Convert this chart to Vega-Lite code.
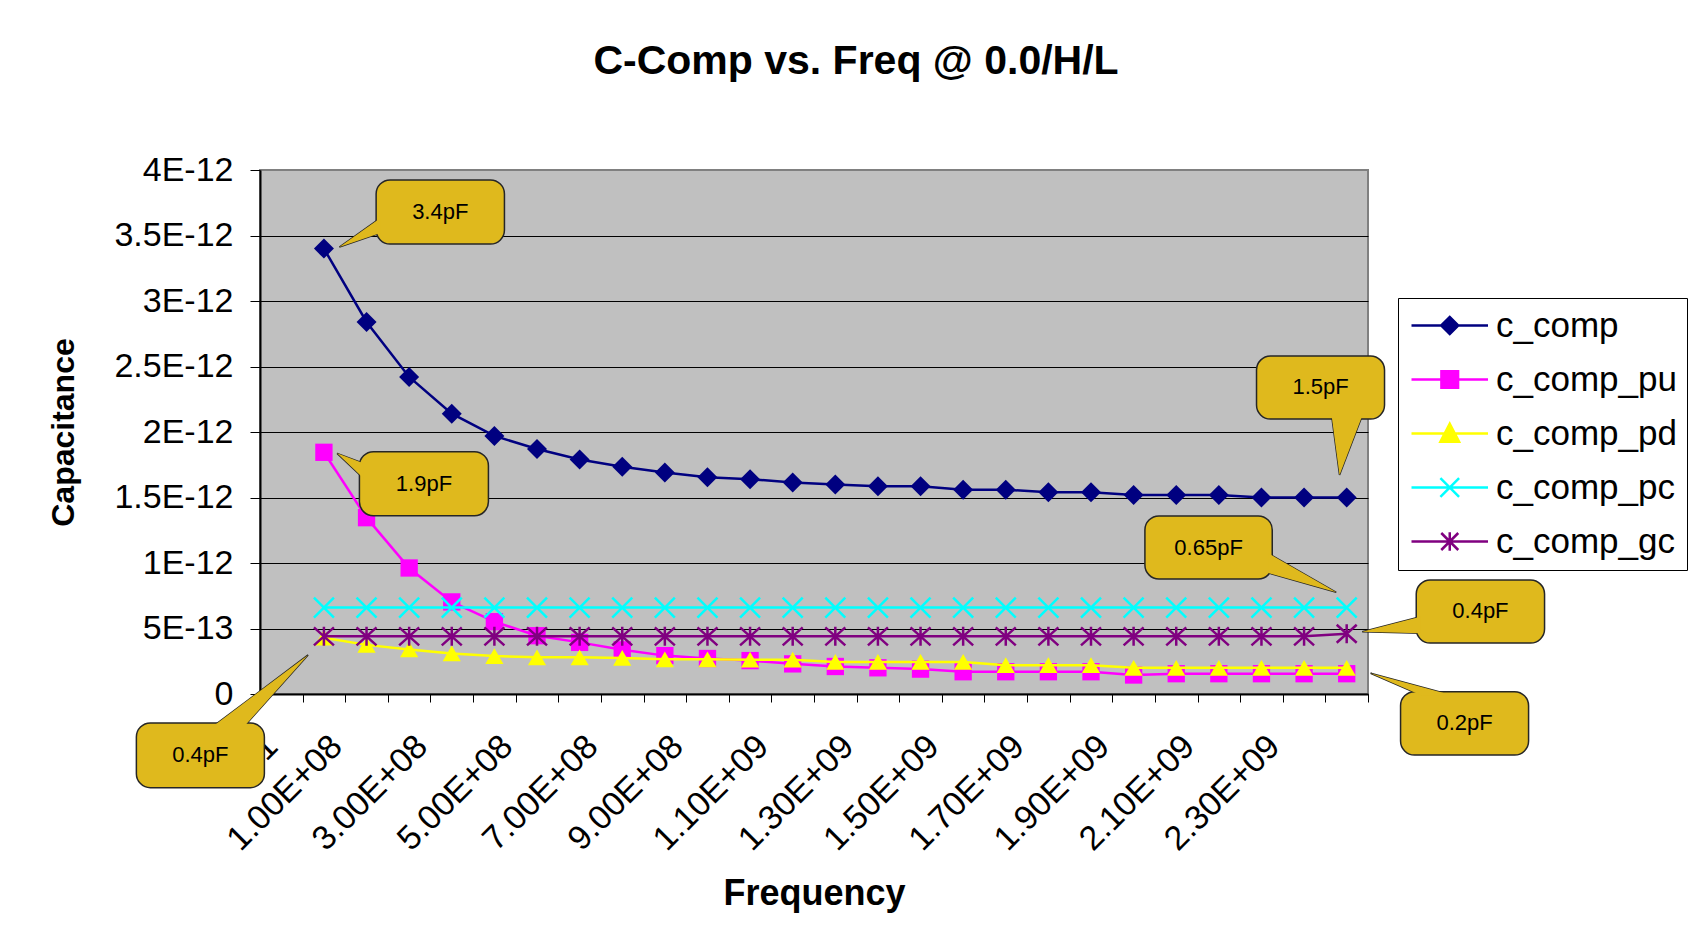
{
  "$schema": "https://vega.github.io/schema/vega-lite/v6.json",
  "width": 1108,
  "height": 524,
  "autosize": {"type": "none"},
  "padding": {"left": 260, "top": 170, "right": 328, "bottom": 253},
  "background": "#ffffff",
  "title": {
    "text": "C-Comp vs. Freq @ 0.0/H/L",
    "anchor": "middle",
    "frame": "group",
    "dx": 42,
    "offset": 70,
    "font": "Liberation Sans",
    "fontSize": 41,
    "fontWeight": "bold",
    "color": "#000000"
  },
  "datasets": {
    "curves": [
      {"freq": 100000000, "c_comp": 3.40e-12, "c_comp_pu": 1.845e-12, "c_comp_pd": 0.430e-12, "c_comp_pc": 0.66e-12, "c_comp_gc": 0.44e-12},
      {"freq": 200000000, "c_comp": 2.84e-12, "c_comp_pu": 1.346e-12, "c_comp_pd": 0.375e-12, "c_comp_pc": 0.66e-12, "c_comp_gc": 0.44e-12},
      {"freq": 300000000, "c_comp": 2.42e-12, "c_comp_pu": 0.962e-12, "c_comp_pd": 0.340e-12, "c_comp_pc": 0.66e-12, "c_comp_gc": 0.44e-12},
      {"freq": 400000000, "c_comp": 2.14e-12, "c_comp_pu": 0.703e-12, "c_comp_pd": 0.310e-12, "c_comp_pc": 0.66e-12, "c_comp_gc": 0.44e-12},
      {"freq": 500000000, "c_comp": 1.97e-12, "c_comp_pu": 0.552e-12, "c_comp_pd": 0.290e-12, "c_comp_pc": 0.66e-12, "c_comp_gc": 0.44e-12},
      {"freq": 600000000, "c_comp": 1.87e-12, "c_comp_pu": 0.445e-12, "c_comp_pd": 0.280e-12, "c_comp_pc": 0.66e-12, "c_comp_gc": 0.44e-12},
      {"freq": 700000000, "c_comp": 1.79e-12, "c_comp_pu": 0.394e-12, "c_comp_pd": 0.280e-12, "c_comp_pc": 0.66e-12, "c_comp_gc": 0.44e-12},
      {"freq": 800000000, "c_comp": 1.735e-12, "c_comp_pu": 0.337e-12, "c_comp_pd": 0.275e-12, "c_comp_pc": 0.66e-12, "c_comp_gc": 0.44e-12},
      {"freq": 900000000, "c_comp": 1.69e-12, "c_comp_pu": 0.293e-12, "c_comp_pd": 0.265e-12, "c_comp_pc": 0.66e-12, "c_comp_gc": 0.44e-12},
      {"freq": 1000000000, "c_comp": 1.655e-12, "c_comp_pu": 0.271e-12, "c_comp_pd": 0.265e-12, "c_comp_pc": 0.66e-12, "c_comp_gc": 0.44e-12},
      {"freq": 1100000000, "c_comp": 1.64e-12, "c_comp_pu": 0.255e-12, "c_comp_pd": 0.262e-12, "c_comp_pc": 0.66e-12, "c_comp_gc": 0.44e-12},
      {"freq": 1200000000, "c_comp": 1.615e-12, "c_comp_pu": 0.230e-12, "c_comp_pd": 0.262e-12, "c_comp_pc": 0.66e-12, "c_comp_gc": 0.44e-12},
      {"freq": 1300000000, "c_comp": 1.60e-12, "c_comp_pu": 0.210e-12, "c_comp_pd": 0.245e-12, "c_comp_pc": 0.66e-12, "c_comp_gc": 0.44e-12},
      {"freq": 1400000000, "c_comp": 1.585e-12, "c_comp_pu": 0.200e-12, "c_comp_pd": 0.245e-12, "c_comp_pc": 0.66e-12, "c_comp_gc": 0.44e-12},
      {"freq": 1500000000, "c_comp": 1.585e-12, "c_comp_pu": 0.190e-12, "c_comp_pd": 0.245e-12, "c_comp_pc": 0.66e-12, "c_comp_gc": 0.44e-12},
      {"freq": 1600000000, "c_comp": 1.56e-12, "c_comp_pu": 0.170e-12, "c_comp_pd": 0.245e-12, "c_comp_pc": 0.66e-12, "c_comp_gc": 0.44e-12},
      {"freq": 1700000000, "c_comp": 1.56e-12, "c_comp_pu": 0.170e-12, "c_comp_pd": 0.220e-12, "c_comp_pc": 0.66e-12, "c_comp_gc": 0.44e-12},
      {"freq": 1800000000, "c_comp": 1.54e-12, "c_comp_pu": 0.170e-12, "c_comp_pd": 0.220e-12, "c_comp_pc": 0.66e-12, "c_comp_gc": 0.44e-12},
      {"freq": 1900000000, "c_comp": 1.54e-12, "c_comp_pu": 0.170e-12, "c_comp_pd": 0.220e-12, "c_comp_pc": 0.66e-12, "c_comp_gc": 0.44e-12},
      {"freq": 2000000000, "c_comp": 1.52e-12, "c_comp_pu": 0.145e-12, "c_comp_pd": 0.200e-12, "c_comp_pc": 0.66e-12, "c_comp_gc": 0.44e-12},
      {"freq": 2100000000, "c_comp": 1.52e-12, "c_comp_pu": 0.155e-12, "c_comp_pd": 0.200e-12, "c_comp_pc": 0.66e-12, "c_comp_gc": 0.44e-12},
      {"freq": 2200000000, "c_comp": 1.52e-12, "c_comp_pu": 0.155e-12, "c_comp_pd": 0.200e-12, "c_comp_pc": 0.66e-12, "c_comp_gc": 0.44e-12},
      {"freq": 2300000000, "c_comp": 1.50e-12, "c_comp_pu": 0.155e-12, "c_comp_pd": 0.200e-12, "c_comp_pc": 0.66e-12, "c_comp_gc": 0.44e-12},
      {"freq": 2400000000, "c_comp": 1.50e-12, "c_comp_pu": 0.155e-12, "c_comp_pd": 0.200e-12, "c_comp_pc": 0.66e-12, "c_comp_gc": 0.44e-12},
      {"freq": 2500000000, "c_comp": 1.50e-12, "c_comp_pu": 0.155e-12, "c_comp_pd": 0.200e-12, "c_comp_pc": 0.66e-12, "c_comp_gc": 0.46e-12}
    ],
    "boxes": [
      {"id": "a", "label": "3.4pF", "x1": 222500000, "x2": 523600000, "y1": 3.924e-12, "y2": 3.435e-12, "tx": 373000000, "ty": 3.68e-12},
      {"id": "b", "label": "1.9pF", "x1": 183300000, "x2": 486000000, "y1": 1.85e-12, "y2": 1.361e-12, "tx": 334700000, "ty": 1.605e-12},
      {"id": "c", "label": "1.5pF", "x1": 2288400000, "x2": 2588800000, "y1": 2.58e-12, "y2": 2.099e-12, "tx": 2438600000, "ty": 2.34e-12},
      {"id": "d", "label": "0.65pF", "x1": 2026500000, "x2": 2325300000, "y1": 1.359e-12, "y2": 0.878e-12, "tx": 2175900000, "ty": 1.118e-12},
      {"id": "e", "label": "0.4pF", "x1": 2663200000, "x2": 2964300000, "y1": 0.87e-12, "y2": 0.389e-12, "tx": 2813800000, "ty": 0.63e-12},
      {"id": "f", "label": "0.2pF", "x1": 2626400000, "x2": 2926800000, "y1": 0.0176e-12, "y2": -0.466e-12, "tx": 2776600000, "ty": -0.224e-12},
      {"id": "g", "label": "0.4pF", "x1": -340100000, "x2": -39700000, "y1": -0.221e-12, "y2": -0.715e-12, "tx": -189900000, "ty": -0.468e-12}
    ],
    "ptrV": [
      {"id": "a", "px": 232600000, "py": 3.634e-12, "py2": 3.519e-12},
      {"id": "a", "px": 136300000, "py": 3.412e-12, "py2": 3.412e-12},
      {"id": "b", "px": 192700000, "py": 1.761e-12, "py2": 1.647e-12},
      {"id": "b", "px": 130900000, "py": 1.837e-12, "py2": 1.837e-12},
      {"id": "d", "px": 2315900000, "py": 1.074e-12, "py2": 0.924e-12},
      {"id": "d", "px": 2475500000, "py": 0.776e-12, "py2": 0.776e-12},
      {"id": "e", "px": 2672600000, "py": 0.59e-12, "py2": 0.463e-12},
      {"id": "e", "px": 2536500000, "py": 0.476e-12, "py2": 0.476e-12}
    ],
    "ptrH": [
      {"id": "c", "py": 2.13e-12, "px": 2464400000, "px2": 2537200000},
      {"id": "c", "py": 1.672e-12, "px": 2483200000, "px2": 2483200000},
      {"id": "f", "py": -0.013e-12, "px": 2677300000, "px2": 2751500000},
      {"id": "f", "py": 0.158e-12, "px": 2556000000, "px2": 2556000000},
      {"id": "g", "py": -0.252e-12, "px": -162400000, "px2": -88300000},
      {"id": "g", "py": 0.298e-12, "px": 62900000, "px2": 62900000}
    ]
  },
  "layer": [
    {
      "data": {"name": "curves"},
      "transform": [{"fold": ["c_comp", "c_comp_pu", "c_comp_pd", "c_comp_pc", "c_comp_gc"], "as": ["series", "cap"]}],
      "encoding": {
        "x": {
          "field": "freq", "type": "quantitative",
          "scale": {"domain": [-50000000, 2550000000], "nice": false, "zero": false},
          "axis": {
            "orient": "bottom",
            "values": [-50000000, 50000000, 150000000, 250000000, 350000000, 450000000, 550000000, 650000000, 750000000, 850000000, 950000000, 1050000000, 1150000000, 1250000000, 1350000000, 1450000000, 1550000000, 1650000000, 1750000000, 1850000000, 1950000000, 2050000000, 2150000000, 2250000000, 2350000000, 2450000000, 2550000000],
            "labelExpr": "round((datum.value + 50000000) / 100000000) == 0 ? '1' : (round((datum.value + 50000000) / 100000000) % 2 == 1 && round((datum.value + 50000000) / 100000000) <= 23) ? (round((datum.value + 50000000) / 100000000) < 10 ? round((datum.value + 50000000) / 100000000) + '.00E+08' : format(round((datum.value + 50000000) / 100000000) / 10, '.2f') + 'E+09') : ''",
            "labelAngle": -45,
            "labelAlign": "right",
            "labelBaseline": "middle",
            "labelOffset": {"condition": {"test": "datum.value < 0", "value": 12}, "value": 34},
            "labelPadding": 39,
            "labelOverlap": false,
            "labelFlush": false,
            "labelBound": false,
            "labelFont": "Liberation Sans",
            "labelFontSize": 34,
            "labelColor": "#000000",
            "tickSize": 8,
            "tickColor": "#000000",
            "tickWidth": 1,
            "domainColor": "#000000",
            "domainWidth": 2,
            "grid": false,
            "title": "Frequency",
            "titleFont": "Liberation Sans",
            "titleFontSize": 36,
            "titleFontWeight": "bold",
            "titleColor": "#000000",
            "titlePadding": 20
          }
        },
        "y": {
          "field": "cap", "type": "quantitative",
          "scale": {"domain": [0, 4e-12], "nice": false, "zero": false},
          "axis": {
            "orient": "left",
            "values": [0, 5e-13, 1e-12, 1.5e-12, 2e-12, 2.5e-12, 3e-12, 3.5e-12, 4e-12],
            "labelExpr": "datum.value == 0 ? '0' : datum.value < 9e-13 ? format(datum.value * 1e13, '.2~f') + 'E-13' : format(datum.value * 1e12, '.2~f') + 'E-12'",
            "labelFont": "Liberation Sans",
            "labelFontSize": 34,
            "labelColor": "#000000",
            "labelPadding": 17,
            "tickSize": 10,
            "tickColor": "#000000",
            "tickWidth": 1,
            "domainColor": "#000000",
            "domainWidth": 2,
            "grid": true,
            "gridColor": {"condition": {"test": "datum.value > 3.9e-12", "value": "#808080"}, "value": "#000000"},
            "gridWidth": 1,
            "title": "Capacitance",
            "titleFont": "Liberation Sans",
            "titleFontSize": 32,
            "titleFontWeight": "bold",
            "titleColor": "#000000",
            "titlePadding": 33
          }
        },
        "color": {
          "field": "series", "type": "nominal",
          "scale": {"domain": ["c_comp", "c_comp_pu", "c_comp_pd", "c_comp_pc", "c_comp_gc"], "range": ["#000080", "#FF00FF", "#FFFF00", "#00FFFF", "#800080"]},
          "legend": {
            "orient": "none",
            "legendX": 1138,
            "legendY": 128,
            "title": null,
            "direction": "vertical",
            "labelFont": "Liberation Sans",
            "labelFontSize": 35,
            "labelColor": "#000000",
            "labelLimit": 400,
            "symbolSize": 289,
            "symbolOffset": -14,
            "labelOffset": 67,
            "padding": 10,
            "rowPadding": 18,
            "strokeColor": "#000000",
            "fillColor": "#FFFFFF",
            "encode": {
              "symbols": {
                "update": {
                  "shape": {"signal": "datum.value === 'c_comp' ? 'M0,0L9,0M3.5,0L4.5,-1L5.5,0L4.5,1Z' : datum.value === 'c_comp_pu' ? 'M0,0L9,0M3.52,-0.98L5.48,-0.98L5.48,0.98L3.52,0.98Z' : datum.value === 'c_comp_pd' ? 'M0,0L9,0M4.5,-1.15L5.6,0.98L3.4,0.98Z' : datum.value === 'c_comp_pc' ? 'M0,0L9,0M3.4,-1.1L5.6,1.1M3.4,1.1L5.6,-1.1' : 'M0,0L9,0M3.5,-1L5.5,1M3.5,1L5.5,-1M4.5,-1.1L4.5,1.1'"},
                  "fill": {"scale": "color", "field": "value"},
                  "stroke": {"scale": "color", "field": "value"},
                  "strokeWidth": {"value": 2.5},
                  "opacity": {"value": 1},
                  "fillOpacity": {"value": 1},
                  "strokeOpacity": {"value": 1}
                }
              }
            }
          }
        }
      },
      "layer": [
        {"transform": [{"filter": "datum.series === 'c_comp'"}], "mark": {"type": "line", "strokeWidth": 2.5}},
        {"transform": [{"filter": "datum.series === 'c_comp'"}], "mark": {"type": "point", "shape": "diamond", "filled": true, "size": 400, "opacity": 1}},
        {"transform": [{"filter": "datum.series === 'c_comp_pu'"}], "mark": {"type": "line", "strokeWidth": 2.5}},
        {"transform": [{"filter": "datum.series === 'c_comp_pu'"}], "mark": {"type": "point", "shape": "square", "filled": true, "size": 300, "opacity": 1}},
        {"transform": [{"filter": "datum.series === 'c_comp_pd'"}], "mark": {"type": "line", "strokeWidth": 2.5}},
        {"transform": [{"filter": "datum.series === 'c_comp_pd'"}], "mark": {"type": "point", "shape": "triangle-up", "filled": true, "size": 330, "opacity": 1}},
        {"transform": [{"filter": "datum.series === 'c_comp_pc'"}], "mark": {"type": "line", "strokeWidth": 2.5}},
        {"transform": [{"filter": "datum.series === 'c_comp_pc'"}], "mark": {"type": "point", "shape": "M-1,-1L1,1M-1,1L1,-1", "filled": false, "size": 400, "strokeWidth": 2.5, "opacity": 1}},
        {"transform": [{"filter": "datum.series === 'c_comp_gc'"}], "mark": {"type": "line", "strokeWidth": 2.5}},
        {"transform": [{"filter": "datum.series === 'c_comp_gc'"}], "mark": {"type": "point", "shape": "M-1,-0.9L1,0.9M-1,0.9L1,-0.9M0,-0.95L0,0.95", "filled": false, "size": 400, "strokeWidth": 2.5, "opacity": 1}}
      ]
    },
    {
      "layer": [
        {
          "data": {"name": "ptrV"},
          "mark": {"type": "area", "orient": "vertical", "fill": "#DFB91D", "stroke": "#262626", "strokeWidth": 1.5, "opacity": 1, "fillOpacity": 1},
          "encoding": {
            "x": {"field": "px", "type": "quantitative", "scale": {"domain": [-50000000, 2550000000], "nice": false, "zero": false}},
            "y": {"field": "py", "type": "quantitative", "scale": {"domain": [0, 4e-12], "nice": false, "zero": false}},
            "y2": {"field": "py2"},
            "detail": {"field": "id"}
          }
        },
        {
          "data": {"name": "ptrH"},
          "mark": {"type": "area", "orient": "horizontal", "fill": "#DFB91D", "stroke": "#262626", "strokeWidth": 1.5, "opacity": 1, "fillOpacity": 1},
          "encoding": {
            "y": {"field": "py", "type": "quantitative", "scale": {"domain": [0, 4e-12], "nice": false, "zero": false}},
            "x": {"field": "px", "type": "quantitative", "scale": {"domain": [-50000000, 2550000000], "nice": false, "zero": false}},
            "x2": {"field": "px2"},
            "detail": {"field": "id"}
          }
        },
        {
          "data": {"name": "boxes"},
          "mark": {"type": "rect", "cornerRadius": 14, "fill": "#DFB91D", "stroke": "#262626", "strokeWidth": 1.5, "opacity": 1},
          "encoding": {
            "x": {"field": "x1", "type": "quantitative", "scale": {"domain": [-50000000, 2550000000], "nice": false, "zero": false}},
            "x2": {"field": "x2"},
            "y": {"field": "y1", "type": "quantitative", "scale": {"domain": [0, 4e-12], "nice": false, "zero": false}},
            "y2": {"field": "y2"}
          }
        },
        {
          "data": {"name": "ptrV"},
          "mark": {"type": "area", "orient": "vertical", "fill": "#DFB91D", "strokeWidth": 0, "opacity": 1, "fillOpacity": 1},
          "encoding": {
            "x": {"field": "px", "type": "quantitative", "scale": {"domain": [-50000000, 2550000000], "nice": false, "zero": false}},
            "y": {"field": "py", "type": "quantitative", "scale": {"domain": [0, 4e-12], "nice": false, "zero": false}},
            "y2": {"field": "py2"},
            "detail": {"field": "id"}
          }
        },
        {
          "data": {"name": "ptrH"},
          "mark": {"type": "area", "orient": "horizontal", "fill": "#DFB91D", "strokeWidth": 0, "opacity": 1, "fillOpacity": 1},
          "encoding": {
            "y": {"field": "py", "type": "quantitative", "scale": {"domain": [0, 4e-12], "nice": false, "zero": false}},
            "x": {"field": "px", "type": "quantitative", "scale": {"domain": [-50000000, 2550000000], "nice": false, "zero": false}},
            "x2": {"field": "px2"},
            "detail": {"field": "id"}
          }
        },
        {
          "data": {"name": "boxes"},
          "mark": {"type": "text", "font": "Liberation Sans", "fontSize": 22, "color": "#000000", "align": "center", "baseline": "middle"},
          "encoding": {
            "x": {"field": "tx", "type": "quantitative", "scale": {"domain": [-50000000, 2550000000], "nice": false, "zero": false}},
            "y": {"field": "ty", "type": "quantitative", "scale": {"domain": [0, 4e-12], "nice": false, "zero": false}},
            "text": {"field": "label"}
          }
        }
      ]
    }
  ],
  "config": {
    "view": {"fill": "#C0C0C0", "stroke": "#808080", "strokeWidth": 2},
    "font": "Liberation Sans"
  }
}
